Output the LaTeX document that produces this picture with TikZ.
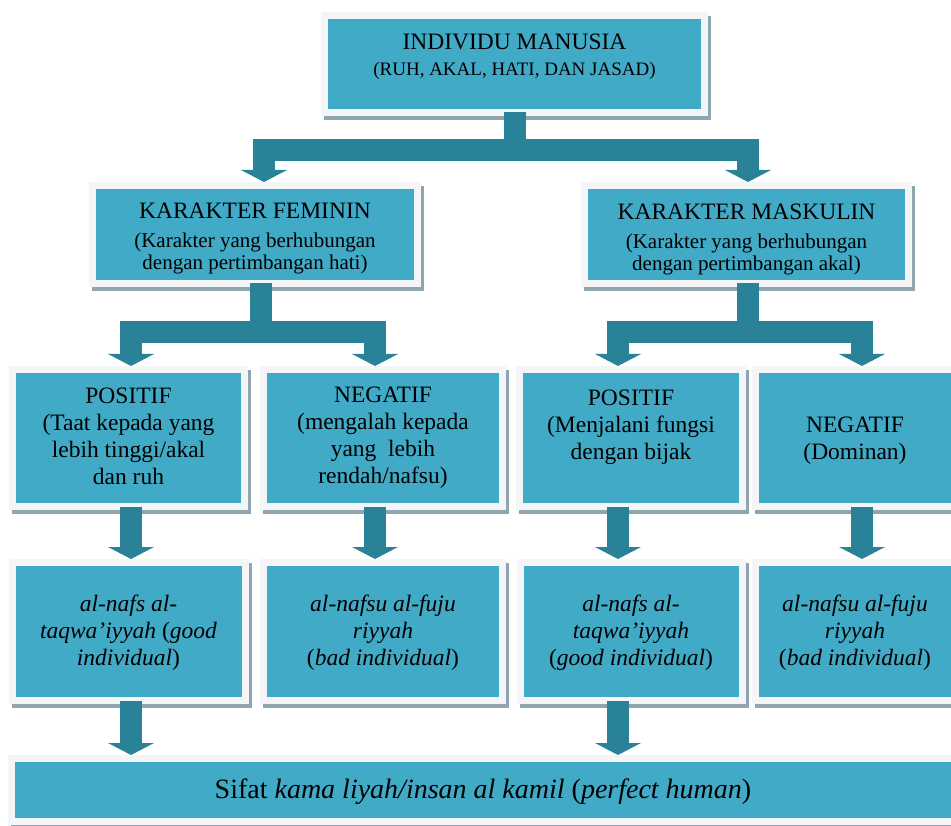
\documentclass[tikz,border=0pt]{standalone}
\usepackage{fontspec}
\setmainfont{Liberation Serif}
\usetikzlibrary{arrows.meta}
\definecolor{boxfill}{RGB}{65,170,198}
\definecolor{arrowcol}{RGB}{42,130,153}
\definecolor{framecol}{RGB}{243,245,247}
\definecolor{shadowcol}{RGB}{143,166,176}
\begin{document}
\begin{tikzpicture}[x=1pt,y=-1pt,
  box/.style={rectangle, inner sep=0pt, draw=framecol, fill=boxfill, line width=7pt,
    preaction={draw=shadowcol, fill=shadowcol, line width=7pt, transform canvas={shift={(3pt,-4pt)}}}},
  txt/.style={align=center, inner sep=0pt, font=\fontsize{23.5}{27}\selectfont},
  conn/.style={draw=arrowcol, line width=22pt, line join=miter, -{Triangle[width=46pt,length=12pt,line width=0pt]}},
  bar/.style={draw=arrowcol, line width=22pt, line join=miter}
]
\useasboundingbox (0,0) rectangle (951,826);
\clip (0,0) rectangle (951,826);

% ---- boxes ----
\node[box, minimum width=380pt, minimum height=97pt] (top) at (514.5,64) {};
\node[box, minimum width=325pt, minimum height=98pt] (fem) at (255,234.5) {};
\node[box, minimum width=324pt, minimum height=98pt] (mas) at (746.5,234.5) {};
\node[box, minimum width=232pt, minimum height=137pt] (p1) at (128.5,438) {};
\node[box, minimum width=239pt, minimum height=137pt] (n1) at (383,438) {};
\node[box, minimum width=223pt, minimum height=137pt] (p2) at (631,438) {};
\node[box, minimum width=199pt, minimum height=137pt] (n2) at (855,438) {};
\node[box, minimum width=233pt, minimum height=138pt] (b1) at (128.5,631.5) {};
\node[box, minimum width=239pt, minimum height=138pt] (b2) at (383,631.5) {};
\node[box, minimum width=222pt, minimum height=138pt] (b3) at (631,631.5) {};
\node[box, minimum width=199pt, minimum height=138pt] (b4) at (855,631.5) {};
\node[box, minimum width=943pt, minimum height=63pt] (bot) at (483,790) {};

% ---- connectors ----
\path (top.south) ++(0,34.5) coordinate (jt);
\draw[bar] ([yshift=3.5pt]top.south) -- (jt);
\draw[conn] (jt) -| ([xshift=9pt]fem.north);
\draw[conn] (jt) -| ([xshift=1.5pt]mas.north);

\path ([xshift=6pt]fem.south) ++(0,45.5) coordinate (jf);
\draw[bar] ([xshift=6pt,yshift=3.5pt]fem.south) -- (jf);
\draw[conn] (jf) -| ([xshift=2.5pt]p1.north);
\draw[conn] (jf) -| ([xshift=-8pt]n1.north);

\path ([xshift=1.5pt]mas.south) ++(0,45.5) coordinate (jm);
\draw[bar] ([xshift=1.5pt,yshift=3.5pt]mas.south) -- (jm);
\draw[conn] (jm) -| ([xshift=-13pt]p2.north);
\draw[conn] (jm) -| ([xshift=7pt]n2.north);

\draw[conn] ([xshift=2.5pt,yshift=3.5pt]p1.south) -- ([xshift=2.5pt]b1.north);
\draw[conn] ([xshift=-8pt,yshift=3.5pt]n1.south) -- ([xshift=-8pt]b2.north);
\draw[conn] ([xshift=-13pt,yshift=3.5pt]p2.south) -- ([xshift=-13pt]b3.north);
\draw[conn] ([xshift=7pt,yshift=3.5pt]n2.south) -- ([xshift=7pt]b4.north);

\coordinate (b1o) at ([xshift=2.5pt,yshift=3.5pt]b1.south);
\coordinate (b3o) at ([xshift=-13pt,yshift=3.5pt]b3.south);
\draw[conn] (b1o) -- (b1o |- bot.north);
\draw[conn] (b3o) -- (b3o |- bot.north);

% ---- texts ----
\node[txt, font=\fontsize{19}{26}\selectfont] (ttop) at ([yshift=7pt]top.center)
  {{\fontsize{23.5}{26}\selectfont INDIVIDU MANUSIA}\\(RUH, AKAL, HATI, DAN JASAD)};
\node[txt, font=\fontsize{21}{22}\selectfont] (tfem) at ([yshift=-4.5pt]fem.center)
  {{\fontsize{23.5}{22}\selectfont KARAKTER FEMININ}\\[7pt](Karakter yang berhubungan\\dengan pertimbangan hati)};
\node[txt, font=\fontsize{21}{22}\selectfont] (tmas) at ([yshift=-4.5pt]mas.center)
  {{\fontsize{23.5}{22}\selectfont KARAKTER MASKULIN}\\[7pt](Karakter yang berhubungan\\dengan pertimbangan akal)};
\node[txt] (tp1) at ([yshift=2pt]p1.center)
  {POSITIF\\(Taat kepada yang\\lebih tinggi/akal\\dan ruh};
\node[txt] (tn1) at (n1.center)
  {NEGATIF\\(mengalah kepada\\yang\ \ lebih\\rendah/nafsu)};
\node[txt] (tp2) at ([yshift=11pt]p2.center)
  {POSITIF\\(Menjalani fungsi\\dengan bijak};
\node[txt] (tn2) at ([yshift=-3pt]n2.center)
  {NEGATIF\\(Dominan)};
\node[txt] (tb1) at ([yshift=-1pt]b1.center)
  {\textit{al-nafs al-}\\\textit{taqwa’iyyah} (\textit{good}\\\textit{individual})};
\node[txt] (tb2) at ([yshift=-1pt]b2.center)
  {\textit{al-nafsu al-fuju}\\\textit{riyyah}\\(\textit{bad individual})};
\node[txt] (tb3) at ([yshift=-1pt]b3.center)
  {\textit{al-nafs al-}\\\textit{taqwa’iyyah}\\(\textit{good individual})};
\node[txt] (tb4) at ([yshift=-1pt]b4.center)
  {\textit{al-nafsu al-fuju}\\\textit{riyyah}\\(\textit{bad individual})};
\node[txt, font=\fontsize{28}{32}\selectfont] (tbot) at ([yshift=-1.5pt]bot.center)
  {Sifat \textit{kama liyah/insan al kamil} (\textit{perfect human})};
\end{tikzpicture}
\end{document}
